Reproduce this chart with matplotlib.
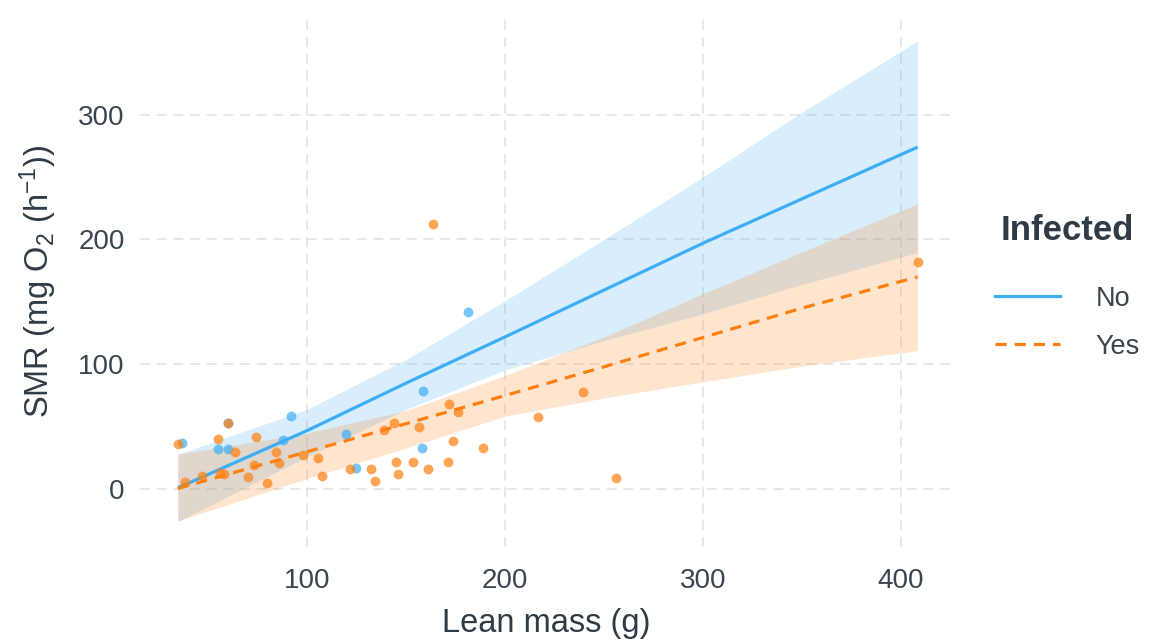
import matplotlib.pyplot as plt
from matplotlib.lines import Line2D

plt.rcParams['font.family'] = ['Liberation Sans', 'DejaVu Sans']
plt.rcParams['mathtext.fontset'] = 'custom'
plt.rcParams['mathtext.rm'] = 'Liberation Sans'
plt.rcParams['mathtext.it'] = 'Liberation Sans:italic'

# observed fish, not infected
no_mass = [36.5, 54.7, 59.8, 60.1, 87.6, 91.6, 119.6, 124.7, 158.2, 158.7, 181.4]
no_smr = [36.6, 31.8, 31.8, 53.2, 39.3, 58.8, 43.9, 16.6, 33.1, 78.8, 142.2]

# observed fish, infected
yes_mass = [34.5, 38.2, 46.6, 54.7, 60.1, 55.9, 58.1, 63.5, 70.2, 73.1, 73.9, 79.8,
            84.2, 85.6, 98.0, 105.6, 107.6, 121.6, 132.1, 134.3, 138.5, 143.9, 144.7,
            146.0, 153.6, 156.2, 161.2, 171.0, 171.8, 173.4, 176.4, 188.7, 216.8,
            239.1, 256.0, 163.7, 408.5]
yes_smr = [35.8, 5.4, 10.4, 40.1, 53.2, 13.1, 12.0, 29.4, 9.4, 19.2, 41.5, 5.1,
           29.4, 21.1, 27.3, 24.6, 10.7, 15.8, 15.8, 6.4, 47.3, 53.2, 21.4,
           12.0, 21.4, 50.0, 15.8, 21.4, 68.2, 38.7, 61.5, 33.1, 57.7,
           77.5, 8.6, 212.3, 181.8]

# model predictions with confidence band
fit_mass = [34.5, 100, 150, 200, 250, 300, 350, 408.5]
no_fit = [1, 47, 85, 122, 159.5, 197, 232.5, 274]
no_hi = [28, 64, 104, 151, 200, 250, 302, 359]
no_lo = [-26, 26, 64, 95.5, 119, 140.5, 164, 189.5]
yes_fit = [0.5, 30, 52.5, 75, 98, 121.5, 145, 170]
yes_hi = [28, 45, 63, 91, 122, 156.5, 190, 228.5]
yes_lo = [-25.5, 8.5, 33, 58.5, 73, 86, 98.5, 111]

blue = '#3DAEF5'
orange = '#FF7F0E'
title_col = '#2F3B47'
tick_col = '#3A4550'

fig = plt.figure(figsize=(11.57, 6.43), dpi=100)
ax = fig.add_axes([0.121, 0.149, 0.702, 0.828])

ax.fill_between(fit_mass, no_lo, no_hi, color=blue, alpha=0.2, linewidth=0)
ax.fill_between(fit_mass, yes_lo, yes_hi, color=orange, alpha=0.2, linewidth=0)

ax.plot(fit_mass, no_fit, color=blue, lw=2.3, solid_capstyle='butt')
ax.plot(fit_mass, yes_fit, color=orange, lw=2.3, dashes=(3.5, 2.5))

ax.scatter(no_mass, no_smr, s=50, color=blue, alpha=0.7, linewidths=0, zorder=3)
ax.scatter(yes_mass, yes_smr, s=50, color=orange, alpha=0.7, linewidths=0, zorder=3)

ax.set_xlim(15.4, 426)
ax.set_ylim(-46.5, 380)
ax.set_xticks([100, 200, 300, 400])
ax.set_yticks([0, 100, 200, 300])
ax.grid(True, color='#E3E3E3', lw=1.2, dashes=(6, 4))
ax.set_axisbelow(True)
for s in ax.spines.values():
    s.set_visible(False)
ax.tick_params(length=0, labelsize=20, labelcolor=tick_col)
ax.tick_params(axis='x', pad=15)
ax.tick_params(axis='y', pad=11)

ax.set_xlabel('Lean mass (g)', fontsize=23.5, color=title_col, va='center')
ax.xaxis.set_label_coords(0.5, -0.143)
ax.set_ylabel(r'SMR (mg O$_2$ (h$^{-1}$))', fontsize=23.5, color=title_col, va='center')
ax.yaxis.set_label_coords(-0.125, 0.5)

handles = [Line2D([], [], color=blue, lw=2.3),
           Line2D([], [], color=orange, lw=2.3, dashes=(3.5, 2.5))]
leg = fig.legend(handles, ['No', 'Yes'], title='Infected', loc='upper left',
                 bbox_to_anchor=(0.839, 0.705), frameon=False, fontsize=19.5,
                 handlelength=2.4, handletextpad=1.3, labelspacing=0.8,
                 title_fontproperties={'weight': 'bold', 'size': 25})
leg.get_title().set_color(title_col)
for t in leg.get_texts():
    t.set_color(tick_col)
leg._legend_box.sep = 28

fig.savefig('out.png', dpi=100)
